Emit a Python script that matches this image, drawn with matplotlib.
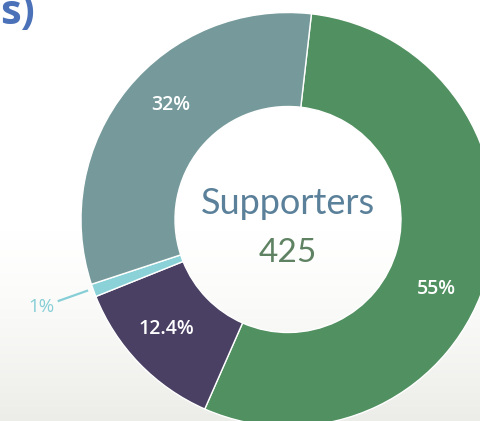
import numpy as np
import matplotlib.pyplot as plt

# donut data (clockwise from the top)
labels = ['55%', '12.4%', '1%', '32%']
shares = [55, 12.4, 1, 32]
colors = ['#519060', '#4A4064', '#8AD2D8', '#769A9B']
label_colors = ['white', 'white', '#86CFD6', 'white']
center_title = 'Supporters'
center_total = '425'

W, H = 481, 421
fig = plt.figure(figsize=(W / 100, H / 100), dpi=100)
ax = fig.add_axes([0, 0, 1, 1])

# faint photo-like background at the bottom
grad = np.ones((H, 1, 3))
t = np.clip((np.arange(H) - 230) / (H - 230), 0, 1)
shade = 1 - 0.075 * t ** 1.5
grad[:, 0, 0] = shade
grad[:, 0, 1] = shade
grad[:, 0, 2] = shade - 0.015 * t
ax.imshow(grad, extent=(0, W, 0, H), aspect='auto', origin='upper', zorder=0)

cx, cy = 288, H - 219.5
R = 207
width = 94

wedges, _ = ax.pie(shares, colors=colors, radius=R, center=(cx, cy),
                   startangle=83.5, counterclock=False,
                   wedgeprops=dict(width=width, edgecolor='white', linewidth=1.0))

# small angle nudges (degrees, negative = clockwise) for the labels
nudge = {'55%': -10, '12.4%': -2, '32%': -5, '1%': -0.5}
for w, lab, c in zip(wedges, labels, label_colors):
    mid = np.deg2rad((w.theta1 + w.theta2) / 2 + nudge.get(lab, 0))
    if lab == '1%':
        # outside label with a leader line
        r0, r1, rt = R * 1.03, R * 1.175, R * 1.265
        ax.plot([cx + r0 * np.cos(mid), cx + r1 * np.cos(mid)],
                [cy + r0 * np.sin(mid), cy + r1 * np.sin(mid)],
                color=c, linewidth=1.6, zorder=5)
        ax.text(cx + rt * np.cos(mid), cy + rt * np.sin(mid), lab, color=c,
                fontsize=13.5, family='Open Sans', ha='center', va='center')
    else:
        rl = 164
        ax.text(cx + rl * np.cos(mid), cy + rl * np.sin(mid), lab, color=c,
                fontsize=14, family='Open Sans', fontweight='semibold',
                ha='center', va='center')

ax.text(cx, H - 204, center_title, color='#5A809A', fontsize=26,
        family='Lato', ha='center', va='center')
ax.text(cx, H - 253, center_total, color='#5E8262', fontsize=24,
        family='Lato', ha='center', va='center')

# cropped title remnant in the top-left corner
ax.text(0, H - 24, 's)', color='#4B72B8', fontsize=30, family='Open Sans',
        fontweight='bold', ha='left', va='baseline')

ax.set_xlim(0, W)
ax.set_ylim(0, H)
ax.set_aspect('equal')
ax.axis('off')

fig.savefig('out.png', dpi=100)
